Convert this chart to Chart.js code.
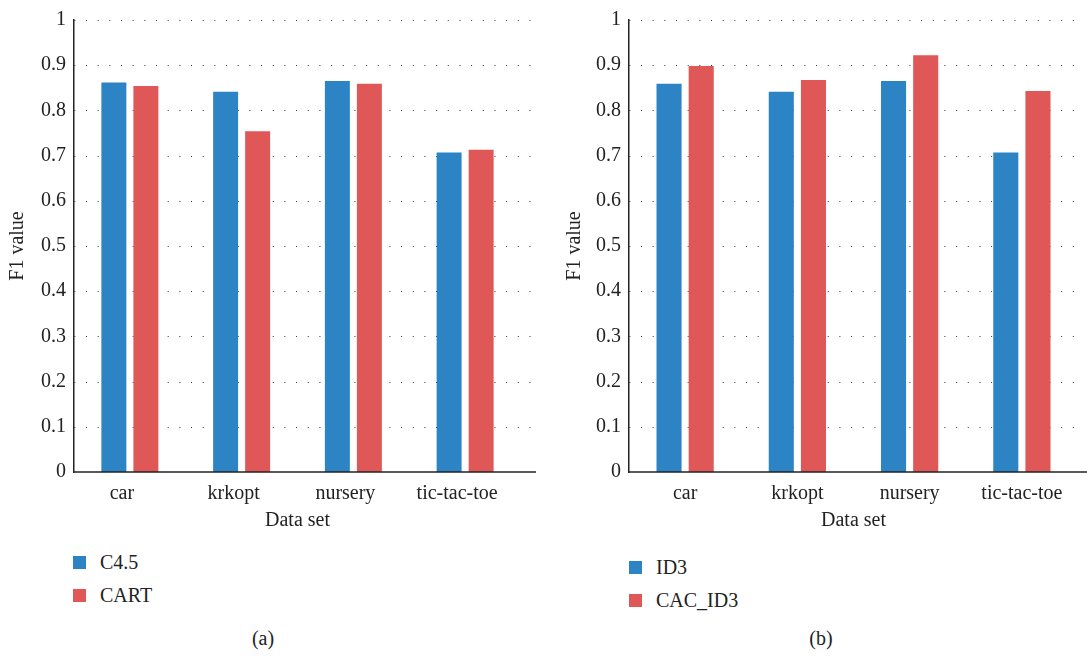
<!DOCTYPE html>
<html>
<head>
<meta charset="utf-8">
<script src="https://cdn.jsdelivr.net/npm/chart.js@4/dist/chart.umd.min.js"></script>
<style>
  body { margin: 0; background: #fff; width: 1087px; height: 657px; position: relative; overflow: hidden;
         font-family: "Liberation Serif", "DejaVu Serif", serif; color: #222; }
  canvas { position: absolute; top: 0; }
  .legend { position: absolute; font-size: 20px; }
  .legend div { position: relative; height: 33px; line-height: 33px; padding-left: 27px; }
  .legend span { position: absolute; left: 0; top: 10px; width: 13px; height: 13px; }
  .caption { position: absolute; top: 627px; font-size: 20px; width: 60px; text-align: center; }
</style>
</head>
<body>
<canvas id="chartA" width="545" height="535" style="left:0px"></canvas>
<canvas id="chartB" width="532" height="535" style="left:555px"></canvas>
<div class="legend" id="legendA" style="left:73px; top:546px"></div>
<div class="legend" id="legendB" style="left:629px; top:551px"></div>
<div class="caption" style="left:233px">(a)</div>
<div class="caption" style="left:791px">(b)</div>
<script>
const categories = ['car', 'krkopt', 'nursery', 'tic-tac-toe'];
const c45 = [0.862, 0.841, 0.865, 0.707];
const cart = [0.854, 0.754, 0.859, 0.713];
const id3 = [0.859, 0.841, 0.865, 0.707];
const cacId3 = [0.898, 0.867, 0.922, 0.843];

const blue = '#2c84c4';
const red = '#df5756';
const font = { family: '"Liberation Serif", "DejaVu Serif", serif', size: 20 };

// dotted y grid + x axis line, can run a bit past the chart area
const gridPlugin = {
  id: 'dotGrid',
  beforeDatasetsDraw(chart, args, opts) {
    const ctx = chart.ctx;
    const area = chart.chartArea;
    const y = chart.scales.y;
    ctx.save();
    ctx.strokeStyle = '#333';
    ctx.lineWidth = 1;
    ctx.setLineDash([1, 10.67]);
    ctx.lineDashOffset = -12;
    y.ticks.forEach(t => {
      if (t.value === 0) return;
      const py = Math.round(y.getPixelForValue(t.value)) + 0.5;
      ctx.beginPath();
      ctx.moveTo(area.left, py);
      ctx.lineTo(area.right + opts.dotExtend, py);
      ctx.stroke();
    });
    ctx.restore();
  },
  afterDatasetsDraw(chart, args, opts) {
    const ctx = chart.ctx;
    const area = chart.chartArea;
    const py = chart.scales.y.getPixelForValue(0);
    ctx.save();
    ctx.strokeStyle = '#222';
    ctx.lineWidth = 1.5;
    ctx.beginPath();
    ctx.moveTo(area.left, py);
    ctx.lineTo(area.right + opts.axisExtend, py);
    ctx.stroke();
    ctx.restore();
  }
};

function makeChart(id, names, series, padRight, dotExtend, axisExtend, titlePad, labelOffset) {
  return new Chart(document.getElementById(id), {
    type: 'bar',
    data: {
      labels: categories,
      datasets: [
        { label: names[0], data: series[0], backgroundColor: blue },
        { label: names[1], data: series[1], backgroundColor: red }
      ]
    },
    options: {
      responsive: false,
      animation: false,
      layout: { padding: { top: 12, right: padRight, left: 0, bottom: 0 } },
      datasets: { bar: { categoryPercentage: 0.573, barPercentage: 0.78 } },
      plugins: {
        legend: { display: false },
        tooltip: { enabled: false },
        dotGrid: { dotExtend: dotExtend, axisExtend: axisExtend }
      },
      scales: {
        x: {
          grid: { display: false },
          border: { display: false },
          ticks: { color: '#222', font: font, padding: 2, labelOffset: labelOffset, maxRotation: 0 },
          title: { display: true, text: 'Data set', color: '#222', font: font, padding: { top: 0, bottom: 2 } },
          afterFit(scale) { scale.height = 63; }
        },
        y: {
          min: 0,
          max: 1,
          grid: { display: false, drawTicks: false },
          border: { display: true, color: '#222', width: 1.5 },
          ticks: {
            stepSize: 0.1,
            color: '#222',
            font: font,
            padding: 8,
            callback: v => String(Number(v.toFixed(1)))
          },
          title: { display: true, text: 'F1 value', color: '#222', font: font, padding: { top: titlePad, bottom: 0 } },
          afterFit(scale) { scale.width = 74; }
        }
      }
    },
    plugins: [gridPlugin]
  });
}

makeChart('chartA', ['C4.5', 'CART'], [c45, cart], 24, 12, 15, 6, -8);
makeChart('chartB', ['ID3', 'CAC_ID3'], [id3, cacId3], 9, 0, 9, 8, 0);

function makeLegend(id, names) {
  const colors = [blue, red];
  document.getElementById(id).innerHTML = names
    .map((n, i) => '<div><span style="background:' + colors[i] + '"></span>' + n + '</div>')
    .join('');
}
makeLegend('legendA', ['C4.5', 'CART']);
makeLegend('legendB', ['ID3', 'CAC_ID3']);
</script>
</body>
</html>
